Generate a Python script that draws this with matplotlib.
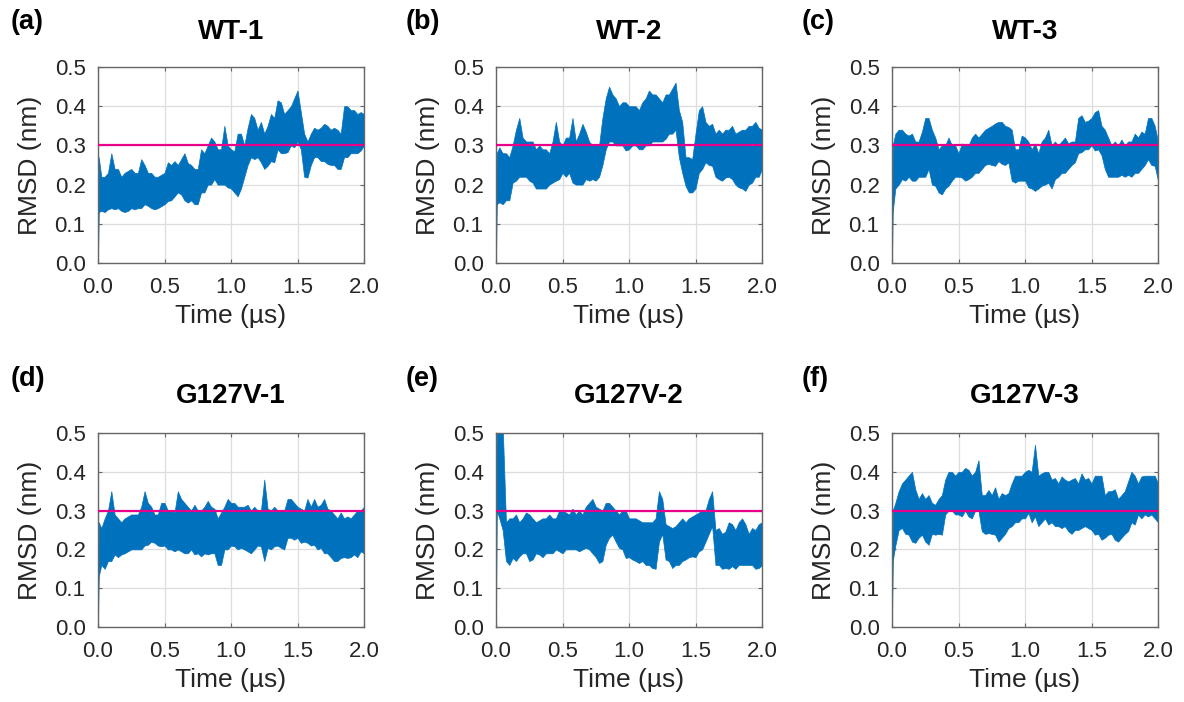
import matplotlib
matplotlib.use("Agg")
import matplotlib.pyplot as plt
from matplotlib.ticker import FormatStrFormatter

plt.rcParams['font.family'] = ['Liberation Sans', 'DejaVu Sans']

# ---- data: RMSD envelopes (upper / lower edge of each trajectory), nm ----
# sampled every 0.025 us; frame 0 of every run has RMSD 0
START_T, START_RMSD = 0.0, 0.0
TIME_US = [0.005] + [round(0.025 * k, 3) for k in range(1, 81)]

WT1_HI = [0.27, 0.22, 0.22, 0.23, 0.28, 0.24, 0.24, 0.22, 0.23, 0.235,
          0.24, 0.23, 0.23, 0.265, 0.25, 0.23, 0.23, 0.22, 0.22, 0.225,
          0.23, 0.257, 0.25, 0.26, 0.25, 0.265, 0.28, 0.255, 0.25, 0.24,
          0.24, 0.29, 0.28, 0.30, 0.32, 0.31, 0.29, 0.29, 0.35, 0.30,
          0.29, 0.285, 0.33, 0.33, 0.30, 0.345, 0.38, 0.37, 0.34, 0.36,
          0.33, 0.35, 0.38, 0.37, 0.415, 0.41, 0.38, 0.39, 0.40, 0.42,
          0.44, 0.385, 0.33, 0.31, 0.33, 0.345, 0.34, 0.345, 0.355, 0.35,
          0.34, 0.345, 0.34, 0.33, 0.40, 0.40, 0.39, 0.39, 0.38, 0.385,
          0.38]
WT1_LO = [0.13, 0.133, 0.13, 0.137, 0.14, 0.137, 0.14, 0.133, 0.13, 0.133,
          0.14, 0.137, 0.14, 0.14, 0.15, 0.146, 0.14, 0.137, 0.14, 0.145,
          0.15, 0.158, 0.16, 0.17, 0.18, 0.175, 0.16, 0.154, 0.16, 0.15,
          0.15, 0.18, 0.18, 0.20, 0.20, 0.214, 0.20, 0.20, 0.20, 0.193,
          0.19, 0.18, 0.17, 0.19, 0.22, 0.25, 0.27, 0.265, 0.27, 0.257,
          0.24, 0.248, 0.26, 0.257, 0.29, 0.28, 0.28, 0.283, 0.30, 0.295,
          0.31, 0.29, 0.22, 0.218, 0.25, 0.27, 0.27, 0.26, 0.26, 0.253,
          0.25, 0.25, 0.24, 0.24, 0.27, 0.27, 0.28, 0.28, 0.28, 0.287,
          0.30]

WT2_HI = [0.28, 0.295, 0.28, 0.28, 0.27, 0.30, 0.34, 0.37, 0.32, 0.31,
          0.31, 0.31, 0.29, 0.30, 0.29, 0.29, 0.28, 0.31, 0.36, 0.31,
          0.30, 0.32, 0.32, 0.37, 0.31, 0.33, 0.355, 0.335, 0.31, 0.30,
          0.30, 0.30, 0.37, 0.42, 0.45, 0.43, 0.42, 0.40, 0.41, 0.41,
          0.40, 0.40, 0.40, 0.39, 0.41, 0.42, 0.44, 0.43, 0.43, 0.42,
          0.41, 0.43, 0.43, 0.445, 0.46, 0.39, 0.36, 0.27, 0.27, 0.265,
          0.33, 0.39, 0.40, 0.36, 0.35, 0.355, 0.33, 0.34, 0.33, 0.34,
          0.34, 0.35, 0.33, 0.335, 0.34, 0.34, 0.35, 0.35, 0.36, 0.345,
          0.34]
WT2_LO = [0.15, 0.155, 0.15, 0.16, 0.16, 0.205, 0.21, 0.22, 0.22, 0.22,
          0.21, 0.205, 0.19, 0.19, 0.19, 0.19, 0.20, 0.205, 0.21, 0.214,
          0.23, 0.22, 0.23, 0.205, 0.20, 0.20, 0.20, 0.214, 0.21, 0.214,
          0.21, 0.22, 0.25, 0.29, 0.31, 0.31, 0.30, 0.30, 0.30, 0.287,
          0.29, 0.30, 0.30, 0.29, 0.29, 0.30, 0.30, 0.31, 0.31, 0.31,
          0.31, 0.317, 0.33, 0.33, 0.34, 0.27, 0.23, 0.197, 0.18, 0.18,
          0.19, 0.23, 0.24, 0.257, 0.25, 0.248, 0.22, 0.214, 0.21, 0.218,
          0.22, 0.214, 0.20, 0.193, 0.19, 0.184, 0.20, 0.205, 0.22, 0.22,
          0.24]

WT3_HI = [0.30, 0.33, 0.34, 0.34, 0.33, 0.325, 0.33, 0.31, 0.31, 0.335,
          0.37, 0.37, 0.34, 0.32, 0.29, 0.30, 0.30, 0.32, 0.30, 0.30,
          0.28, 0.305, 0.30, 0.30, 0.32, 0.33, 0.32, 0.33, 0.34, 0.345,
          0.35, 0.356, 0.36, 0.36, 0.35, 0.347, 0.34, 0.29, 0.29, 0.325,
          0.32, 0.31, 0.29, 0.305, 0.28, 0.31, 0.32, 0.34, 0.30, 0.31,
          0.30, 0.31, 0.32, 0.305, 0.31, 0.31, 0.37, 0.377, 0.36, 0.363,
          0.37, 0.385, 0.39, 0.35, 0.34, 0.32, 0.30, 0.31, 0.30, 0.315,
          0.30, 0.31, 0.31, 0.33, 0.32, 0.335, 0.33, 0.37, 0.37, 0.35,
          0.31]
WT3_LO = [0.13, 0.19, 0.20, 0.214, 0.21, 0.22, 0.21, 0.21, 0.22, 0.22,
          0.22, 0.24, 0.20, 0.197, 0.18, 0.175, 0.19, 0.197, 0.21, 0.22,
          0.22, 0.218, 0.21, 0.214, 0.22, 0.23, 0.23, 0.24, 0.25, 0.253,
          0.25, 0.248, 0.26, 0.253, 0.25, 0.257, 0.21, 0.205, 0.21, 0.21,
          0.21, 0.193, 0.19, 0.184, 0.19, 0.197, 0.20, 0.205, 0.19, 0.214,
          0.22, 0.23, 0.23, 0.24, 0.25, 0.257, 0.28, 0.283, 0.29, 0.29,
          0.30, 0.287, 0.29, 0.275, 0.24, 0.22, 0.22, 0.22, 0.22, 0.225,
          0.22, 0.225, 0.22, 0.23, 0.23, 0.24, 0.25, 0.265, 0.25, 0.248,
          0.21]

G1_HI = [0.27, 0.255, 0.28, 0.30, 0.35, 0.29, 0.28, 0.27, 0.28, 0.285,
         0.29, 0.29, 0.29, 0.31, 0.35, 0.32, 0.31, 0.29, 0.29, 0.32,
         0.32, 0.30, 0.30, 0.295, 0.35, 0.33, 0.32, 0.31, 0.30, 0.315,
         0.30, 0.30, 0.31, 0.325, 0.31, 0.305, 0.28, 0.295, 0.31, 0.33,
         0.32, 0.32, 0.31, 0.31, 0.31, 0.315, 0.30, 0.31, 0.30, 0.30,
         0.38, 0.305, 0.30, 0.31, 0.30, 0.30, 0.30, 0.33, 0.33, 0.32,
         0.31, 0.305, 0.30, 0.33, 0.31, 0.33, 0.31, 0.315, 0.33, 0.305,
         0.30, 0.29, 0.28, 0.295, 0.28, 0.285, 0.28, 0.29, 0.30, 0.30,
         0.31]
G1_LO = [0.13, 0.16, 0.15, 0.17, 0.17, 0.187, 0.18, 0.187, 0.19, 0.195,
         0.20, 0.20, 0.20, 0.20, 0.21, 0.212, 0.22, 0.217, 0.21, 0.208,
         0.21, 0.20, 0.20, 0.195, 0.20, 0.195, 0.19, 0.19, 0.20, 0.187,
         0.19, 0.182, 0.19, 0.187, 0.19, 0.19, 0.16, 0.16, 0.20, 0.20,
         0.21, 0.208, 0.20, 0.204, 0.20, 0.195, 0.19, 0.20, 0.21, 0.208,
         0.17, 0.204, 0.20, 0.208, 0.21, 0.204, 0.20, 0.23, 0.23, 0.225,
         0.23, 0.217, 0.22, 0.217, 0.21, 0.212, 0.20, 0.204, 0.19, 0.19,
         0.18, 0.17, 0.17, 0.178, 0.18, 0.178, 0.18, 0.187, 0.18, 0.195,
         0.19]

G2_HI = [0.52, 0.52, 0.52, 0.27, 0.28, 0.28, 0.29, 0.27, 0.28, 0.295,
         0.29, 0.28, 0.27, 0.275, 0.28, 0.28, 0.29, 0.28, 0.28, 0.30,
         0.30, 0.295, 0.29, 0.305, 0.29, 0.30, 0.29, 0.31, 0.32, 0.33,
         0.31, 0.305, 0.30, 0.32, 0.32, 0.31, 0.30, 0.29, 0.30, 0.30,
         0.28, 0.28, 0.28, 0.275, 0.27, 0.27, 0.27, 0.27, 0.28, 0.35,
         0.33, 0.265, 0.26, 0.255, 0.26, 0.27, 0.28, 0.27, 0.28, 0.285,
         0.29, 0.295, 0.30, 0.30, 0.33, 0.35, 0.25, 0.255, 0.24, 0.246,
         0.27, 0.265, 0.25, 0.27, 0.28, 0.265, 0.24, 0.255, 0.25, 0.265,
         0.27]
G2_LO = [0.30, 0.28, 0.25, 0.17, 0.16, 0.178, 0.17, 0.182, 0.19, 0.19,
         0.17, 0.174, 0.19, 0.187, 0.18, 0.19, 0.19, 0.19, 0.20, 0.195,
         0.19, 0.20, 0.20, 0.20, 0.20, 0.195, 0.20, 0.204, 0.20, 0.19,
         0.18, 0.165, 0.17, 0.212, 0.23, 0.238, 0.22, 0.204, 0.20, 0.178,
         0.18, 0.174, 0.17, 0.165, 0.17, 0.16, 0.16, 0.152, 0.15, 0.22,
         0.24, 0.174, 0.17, 0.152, 0.16, 0.16, 0.17, 0.174, 0.18, 0.182,
         0.18, 0.195, 0.20, 0.22, 0.24, 0.26, 0.16, 0.16, 0.15, 0.152,
         0.15, 0.157, 0.15, 0.16, 0.16, 0.16, 0.16, 0.16, 0.15, 0.152,
         0.16]

G3_HI = [0.30, 0.32, 0.35, 0.37, 0.38, 0.39, 0.40, 0.355, 0.33, 0.345,
         0.33, 0.34, 0.32, 0.315, 0.33, 0.34, 0.38, 0.40, 0.40, 0.39,
         0.40, 0.40, 0.41, 0.405, 0.39, 0.40, 0.43, 0.34, 0.34, 0.353,
         0.34, 0.36, 0.33, 0.345, 0.34, 0.345, 0.37, 0.39, 0.39, 0.39,
         0.40, 0.405, 0.40, 0.47, 0.39, 0.396, 0.40, 0.40, 0.38, 0.384,
         0.37, 0.388, 0.38, 0.375, 0.38, 0.384, 0.37, 0.396, 0.38, 0.384,
         0.37, 0.39, 0.39, 0.39, 0.34, 0.35, 0.35, 0.355, 0.33, 0.34,
         0.35, 0.375, 0.40, 0.39, 0.37, 0.388, 0.39, 0.39, 0.39, 0.39,
         0.37]
G3_LO = [0.17, 0.21, 0.25, 0.255, 0.24, 0.238, 0.22, 0.217, 0.23, 0.238,
         0.22, 0.212, 0.24, 0.238, 0.24, 0.238, 0.29, 0.30, 0.30, 0.29,
         0.29, 0.285, 0.30, 0.285, 0.28, 0.30, 0.30, 0.247, 0.24, 0.242,
         0.24, 0.238, 0.22, 0.23, 0.24, 0.255, 0.26, 0.27, 0.27, 0.28,
         0.28, 0.294, 0.27, 0.285, 0.26, 0.27, 0.28, 0.264, 0.27, 0.26,
         0.26, 0.255, 0.26, 0.247, 0.24, 0.25, 0.25, 0.255, 0.26, 0.255,
         0.25, 0.238, 0.24, 0.225, 0.23, 0.238, 0.24, 0.225, 0.22, 0.23,
         0.24, 0.247, 0.27, 0.264, 0.29, 0.28, 0.29, 0.285, 0.29, 0.28,
         0.27]

TITLES = ["WT-1", "WT-2", "WT-3", "G127V-1", "G127V-2", "G127V-3"]
LETTERS = ["(a)", "(b)", "(c)", "(d)", "(e)", "(f)"]
THRESHOLD = 0.3
X_TICKS = [0.0, 0.5, 1.0, 1.5, 2.0]
Y_TICKS = [0.0, 0.1, 0.2, 0.3, 0.4, 0.5]

SERIES = [(WT1_HI, WT1_LO), (WT2_HI, WT2_LO), (WT3_HI, WT3_LO),
          (G1_HI, G1_LO), (G2_HI, G2_LO), (G3_HI, G3_LO)]
for hi, lo in SERIES:
    assert len(hi) == len(TIME_US) and len(lo) == len(TIME_US)

# ---- style ----
BLUE = "#0072BD"
PINK = "#E8008A"
TEXT = "#262626"
W, H = 1184, 702

fig = plt.figure(figsize=(W / 100, H / 100), dpi=100)

# axes boxes in pixels: (left, right) per column, (top, bottom) per row
col_lr = [(98, 364), (496, 762), (892, 1158)]
row_tb = [(67, 263), (433, 627)]
letter_x = [11, 406, 802]
letter_y = [22, 379]
title_y = [32, 396]

for i, (hi, lo) in enumerate(SERIES):
    r, c = divmod(i, 3)
    l, rr = col_lr[c]
    tp, bt = row_tb[r]
    ax = fig.add_axes([l / W, 1 - bt / H, (rr - l) / W, (bt - tp) / H])

    tt = [START_T] + TIME_US
    hh = [START_RMSD] + hi
    ll = [START_RMSD] + lo
    ax.fill_between(tt, ll, hh, color=BLUE, linewidth=0.5, edgecolor=BLUE, zorder=2)
    ax.axhline(THRESHOLD, color=PINK, linewidth=1.6, zorder=3)

    ax.set_xlim(0, 2)
    ax.set_ylim(0, 0.5)
    ax.set_xticks(X_TICKS)
    ax.set_yticks(Y_TICKS)
    ax.xaxis.set_major_formatter(FormatStrFormatter('%.1f'))
    ax.yaxis.set_major_formatter(FormatStrFormatter('%.1f'))
    ax.grid(True, color="#dddddd", linewidth=0.9, zorder=0)
    ax.set_axisbelow(True)
    ax.tick_params(direction='in', length=3, width=0.8, top=True, right=True,
                   labelsize=16, colors="#666666", labelcolor=TEXT)
    ax.tick_params(axis='x', pad=10)
    ax.tick_params(axis='y', pad=9)
    for s in ax.spines.values():
        s.set_color("#666666")
        s.set_linewidth(1.0)

    ax.set_xlabel("Time (\u00b5s)", fontsize=19, color=TEXT)
    ax.set_ylabel("RMSD (nm)", fontsize=19, color=TEXT)
    ax.xaxis.set_label_coords(0.5, -0.21)
    ax.yaxis.set_label_coords(-0.21, 0.5)

    fig.text((l + rr) / 2 / W, 1 - title_y[r] / H, TITLES[i], fontsize=20,
             fontweight='bold', ha='center', va='center', color='black')
    fig.text(letter_x[c] / W, 1 - letter_y[r] / H, LETTERS[i], fontsize=19.5,
             fontweight='bold', ha='left', va='center', color='black')

fig.savefig("out.png", dpi=100)
